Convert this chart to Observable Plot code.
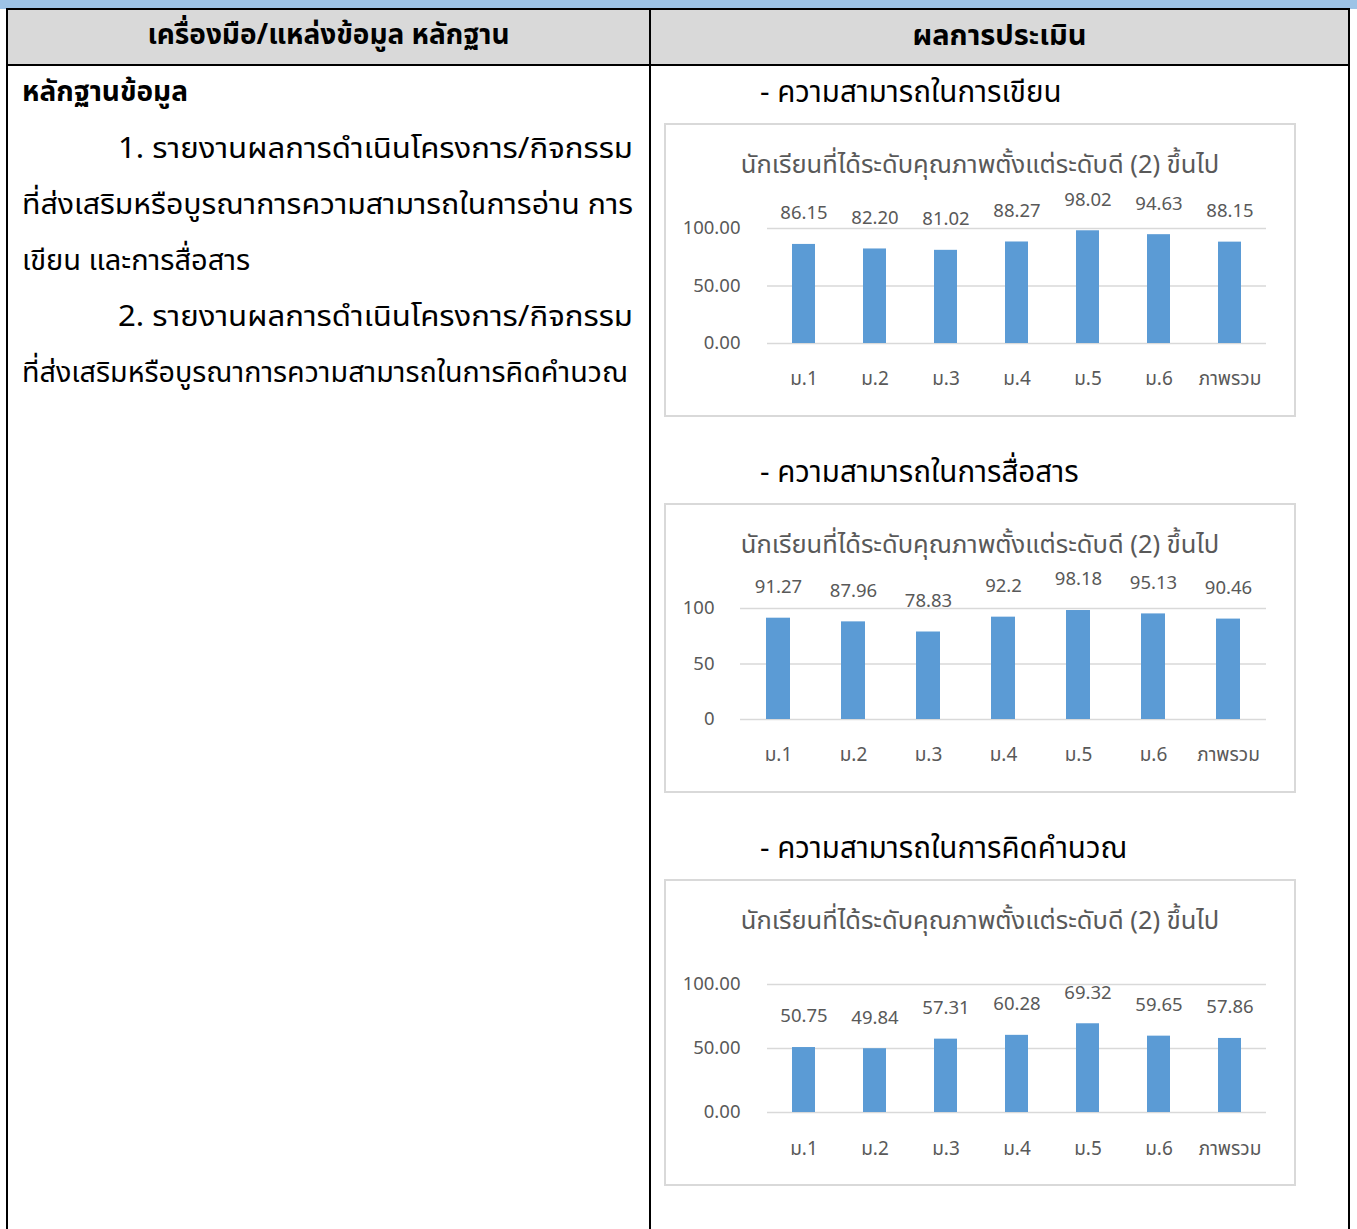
<!DOCTYPE html>
<html>
<head>
<meta charset="utf-8">
<script src="https://cdn.jsdelivr.net/npm/d3@7"></script>
<script src="https://cdn.jsdelivr.net/npm/@observablehq/plot@0.6"></script>
<style>
  html, body { margin:0; padding:0; background:#fff; }
  body { width:1357px; height:1229px; position:relative; overflow:hidden;
         font-family: "Noto Sans Thai", "Noto Sans Thai Looped", "Loma", "Garuda", "Norasi", "Laksaman", "Noto Sans", sans-serif; color:#000; }
  .abs { position:absolute; }
  .line { position:absolute; white-space:nowrap; font-size:29px; line-height:40px; transform-origin:left center; }
  .box { position:absolute; border:2px solid #d9d9d9; box-sizing:border-box; background:#fff; }
  .ctitle { position:absolute; left:0; width:100%; text-align:center; font-size:25.5px; color:#595959; white-space:nowrap; line-height:36px; }
  .heading { position:absolute; font-size:29.5px; white-space:nowrap; line-height:40px; }
</style>
</head>
<body>
<div class="abs" style="left:0;top:0;width:1357px;height:9px;background:#9dc3e6"></div>
<div class="abs" style="left:7px;top:8px;width:1342px;height:58px;background:#d9d9d9;border-top:2px solid #000;border-bottom:2px solid #000;box-sizing:border-box"></div>
<div class="abs" style="left:6px;top:8px;width:2px;height:1221px;background:#000"></div>
<div class="abs" style="left:649px;top:8px;width:2px;height:1221px;background:#000"></div>
<div class="abs" style="left:1348px;top:8px;width:2px;height:1221px;background:#000"></div>

<div class="abs" style="left:8px;top:16px;width:641px;text-align:center;font-size:28px;font-weight:bold;line-height:40px">เครื่องมือ/แหล่งข้อมูล หลักฐาน</div>
<div class="abs" style="left:651px;top:16px;width:697px;text-align:center;font-size:29px;font-weight:bold;line-height:40px">ผลการประเมิน</div>

<div class="line" data-w="0" style="left:22px;top:73px;font-weight:bold;font-size:28px">หลักฐานข้อมูล</div>
<div class="line" data-w="515" style="left:118px;top:129px">1. รายงานผลการดำเนินโครงการ/กิจกรรม</div>
<div class="line" data-w="611" style="left:22px;top:185px">ที่ส่งเสริมหรือบูรณาการความสามารถในการอ่าน การ</div>
<div class="line" data-w="0" style="left:22px;top:241px">เขียน และการสื่อสาร</div>
<div class="line" data-w="515" style="left:118px;top:297px">2. รายงานผลการดำเนินโครงการ/กิจกรรม</div>
<div class="line" data-w="606" style="left:22px;top:353px">ที่ส่งเสริมหรือบูรณาการความสามารถในการคิดคำนวณ</div>

<div class="heading" style="left:760px;top:73px">- ความสามารถในการเขียน</div>
<div class="heading" style="left:760px;top:453px">- ความสามารถในการสื่อสาร</div>
<div class="heading" style="left:760px;top:829px">- ความสามารถในการคิดคำนวณ</div>

<div class="box" id="c1" style="left:664px;top:123px;width:632px;height:294px"></div>
<div class="box" id="c2" style="left:664px;top:503px;width:632px;height:290px"></div>
<div class="box" id="c3" style="left:664px;top:879px;width:632px;height:307px"></div>

<script>
const categories = ["ม.1", "ม.2", "ม.3", "ม.4", "ม.5", "ม.6", "ภาพรวม"];
const writingValues = [86.15, 82.20, 81.02, 88.27, 98.02, 94.63, 88.15];
const communicationValues = [91.27, 87.96, 78.83, 92.2, 98.18, 95.13, 90.46];
const calculationValues = [50.75, 49.84, 57.31, 60.28, 69.32, 59.65, 57.86];
const yTicks = [0, 50, 100];
const chartTitle = "นักเรียนที่ได้ระดับคุณภาพตั้งแต่ระดับดี (2) ขึ้นไป";

const FONT = '"Noto Sans Thai", "Noto Sans Thai Looped", "Loma", "Garuda", "Norasi", "Noto Sans", sans-serif';

// fit justified lines to their target widths
document.querySelectorAll(".line").forEach(el => {
  const w = +el.dataset.w;
  if (!w) return;
  const natural = el.getBoundingClientRect().width;
  el.style.transform = `scaleX(${w / natural})`;
});

function makeChart(el, values, cfg) {
  const data = categories.map((c, i) => ({cat: c, value: values[i]}));
  const title = document.createElement("div");
  title.className = "ctitle";
  title.style.top = cfg.titleTop + "px";
  title.textContent = chartTitle;
  el.appendChild(title);
  const chart = Plot.plot({
    width: 628, height: cfg.height,
    marginTop: cfg.mt, marginBottom: cfg.mb, marginLeft: cfg.ml, marginRight: 28,
    x: {domain: categories, paddingInner: cfg.pad, paddingOuter: cfg.pad / 2, label: null},
    y: {domain: [0, 100], label: null},
    style: {fontFamily: FONT, fontSize: "18.5px", color: "#595959", background: "transparent", overflow: "visible"},
    marks: [
      Plot.gridY(yTicks, {stroke: "#d9d9d9", strokeOpacity: 1, strokeWidth: 1.5}),
      Plot.axisY(yTicks, {tickSize: 0, tickPadding: cfg.yPad, tickFormat: cfg.yFmt, fontSize: 18.5, fill: "#595959"}),
      Plot.axisX({tickSize: 0, tickPadding: cfg.xPad, fontSize: 19, fill: "#595959"}),
      Plot.barY(data, {x: "cat", y: "value", fill: "#5b9bd5"}),
      Plot.text(data, {x: "cat", y: "value", text: d => cfg.vFmt(d.value), dy: -31, fontSize: 18.5, fill: "#595959"})
    ]
  });
  chart.style.position = "absolute";
  chart.style.left = "0px";
  chart.style.top = cfg.svgTop + "px";
  el.appendChild(chart);
}

makeChart(document.getElementById("c1"), writingValues, {
  titleTop: 22, svgTop: 60, height: 228, mt: 43, mb: 70, ml: 101, pad: 0.68,
  yPad: 27, xPad: 28, yFmt: d => d.toFixed(2), vFmt: v => v.toFixed(2)
});
makeChart(document.getElementById("c2"), communicationValues, {
  titleTop: 22, svgTop: 60, height: 224, mt: 43, mb: 70, ml: 74, pad: 0.68,
  yPad: 26, xPad: 28, yFmt: d => String(d), vFmt: v => String(v)
});
makeChart(document.getElementById("c3"), calculationValues, {
  titleTop: 22, svgTop: 59, height: 243, mt: 44, mb: 71, ml: 101, pad: 0.68,
  yPad: 27, xPad: 29, yFmt: d => d.toFixed(2), vFmt: v => v.toFixed(2)
});
</script>
</body>
</html>
